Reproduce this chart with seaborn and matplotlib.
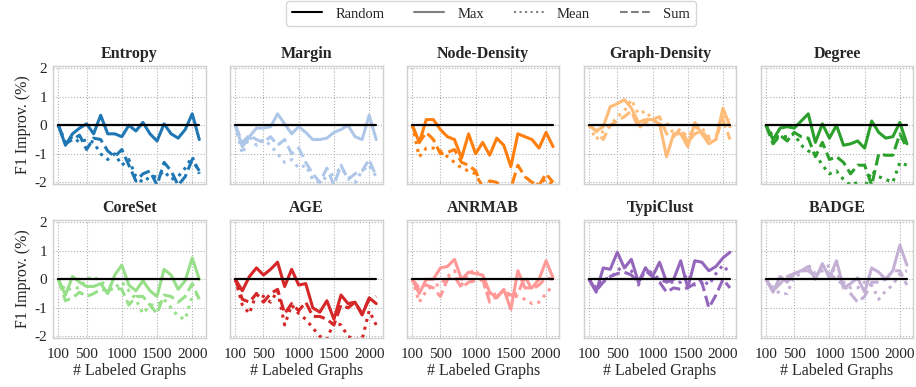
import numpy as np
import pandas as pd
import matplotlib
matplotlib.use("Agg")
import matplotlib.pyplot as plt
from matplotlib.lines import Line2D
import seaborn as sns

sns.set_theme(style="whitegrid")
plt.rcParams.update({
    'font.family': ['Liberation Serif', 'DejaVu Serif'],
    'font.size': 11,
    'axes.titlesize': 11.5,
    'axes.titleweight': 'bold',
    'axes.labelsize': 11.5,
    'xtick.labelsize': 11,
    'ytick.labelsize': 11,
    'axes.unicode_minus': False,
    'axes.edgecolor': '#d0d0d0',
    'axes.linewidth': 1.0,
    'grid.linestyle': ':',
    'grid.color': '#b0b0b0',
    'grid.linewidth': 0.8,
})

# labeled graph budgets
budgets = list(range(100, 2200, 100))

methods = ["Entropy", "Margin", "Node-Density", "Graph-Density", "Degree",
           "CoreSet", "AGE", "ANRMAB", "TypiClust", "BADGE"]
colors = ["#1f77b4", "#aec7e8", "#ff7f0e", "#ffbb78", "#2ca02c",
          "#98df8a", "#d62728", "#ff9896", "#9467bd", "#c5b0d5"]

# F1 improvement over random (%)
max_vals = {
    "Entropy": [0, -0.7, -0.3, -0.1, 0.05, -0.3, 0.35, -0.3, -0.3, -0.4, 0.0, -0.2, 0.1, -0.3, -0.55, 0.05, -0.3, -0.45, -0.15, 0.4, -0.5],
    "Margin": [0, -0.75, -0.4, -0.1, -0.1, -0.05, 0.4, 0.05, -0.3, -0.05, -0.25, -0.5, -0.5, -0.45, -0.25, -0.15, 0.0, -0.4, -0.5, 0.35, -0.5],
    "Node-Density": [0, -0.6, 0.2, 0.2, -0.15, -0.4, -0.5, -1.15, -0.3, -1.0, -0.6, -1.05, -0.45, -0.7, -1.45, -0.3, -0.4, -0.5, -0.8, -0.25, -0.75],
    "Graph-Density": [0, -0.2, -0.05, 0.65, 0.75, 0.9, 0.6, 0.1, 0.2, 0.2, 0.05, -1.1, -0.3, -0.3, -0.75, 0.1, -0.3, -0.65, -0.5, 0.6, -0.05],
    "Degree": [0, -0.5, -0.1, -0.05, -0.1, 0.15, 0.4, -0.6, 0.05, -0.45, 0.0, -0.7, -0.65, -0.55, -0.8, 0.15, -0.25, -0.45, -0.4, 0.1, -0.65],
    "CoreSet": [0, -0.55, 0.1, -0.1, -0.25, -0.25, -0.15, -0.5, 0.15, 0.5, -0.2, -0.4, -0.05, -0.4, -0.6, 0.35, 0.15, -0.35, -0.05, 0.75, 0.0],
    "AGE": [0, -0.4, 0.1, 0.4, 0.15, 0.35, 0.6, -0.25, 0.35, -0.2, -0.15, -1.0, -1.15, -0.75, -1.4, -0.55, -0.85, -0.8, -1.25, -0.65, -0.85],
    "ANRMAB": [0, -0.5, 0.0, 0.0, 0.4, 0.45, 0.7, 0.0, 0.25, 0.2, 0.15, -0.45, -0.65, -0.35, -1.05, 0.3, -0.3, -0.3, 0.0, 0.65, 0.05],
    "TypiClust": [0, -0.45, 0.4, 0.35, 0.95, 0.4, 0.7, -0.1, 0.4, 0.1, 0.6, -0.1, 0.0, 0.65, -0.3, 0.65, 0.6, 0.3, 0.45, 0.75, 0.95],
    "BADGE": [0, -0.45, 0.1, -0.1, 0.2, 0.3, 0.45, 0.0, 0.55, 0.05, 0.65, -0.3, -0.15, 0.05, -0.45, 0.4, 0.25, 0.0, 0.3, 1.2, 0.5],
}
mean_vals = {
    "Entropy": [0, -0.6, -0.4, -0.6, -0.5, -0.6, -1.0, -1.2, -1.0, -1.4, -1.2, -1.8, -2.0, -1.8, -1.8, -1.6, -1.9, -1.8, -1.5, -1.1, -1.7],
    "Margin": [0, -1.0, -0.4, -0.7, -0.5, -0.7, -1.0, -1.3, -1.2, -1.5, -1.4, -1.9, -2.0, -1.8, -1.7, -1.5, -1.8, -2.0, -1.6, -1.4, -1.8],
    "Node-Density": [0, -1.1, -0.8, -0.8, -0.9, -1.1, -1.3, -1.5, -1.6, -1.7, -2.2, -2.2, -2.1, -2.3, -2.4, -2.2, -2.2, -2.3, -2.0, -1.9, -2.1],
    "Graph-Density": [0, -0.5, -0.2, 0.0, 0.3, 0.5, 0.9, 0.4, 0.5, 0.2, 0.0, 0.1, -0.3, -0.2, -0.4, -0.1, -0.1, -0.4, -0.5, 0.3, 0.2],
    "Degree": [0, -0.4, -0.4, -0.4, -0.3, -0.7, -0.9, -1.0, -1.4, -1.7, -1.6, -1.9, -2.1, -2.0, -2.2, -1.6, -1.8, -1.9, -2.0, -1.3, -1.4],
    "CoreSet": [0, -0.4, -0.3, -0.3, 0.0, 0.1, -0.1, -0.2, -0.3, -0.1, -0.4, -0.7, -1.2, -0.9, -0.9, -0.7, -1.0, -1.3, -1.4, -0.6, -0.5],
    "AGE": [0, -0.9, -1.2, -0.5, -0.6, -0.8, -0.4, -1.6, -0.9, -1.2, -1.4, -1.7, -2.0, -2.1, -1.5, -1.6, -2.0, -2.1, -2.1, -1.1, -1.6],
    "ANRMAB": [0, -0.8, -0.4, -0.2, -0.2, 0.1, 0.3, -0.2, 0.2, 0.35, -0.1, -0.6, -0.5, -0.4, -0.6, -0.6, -0.7, -0.85, -0.8, -0.5, -0.2],
    "TypiClust": [0, -0.3, 0.0, 0.05, 0.3, 0.5, 0.3, -0.2, 0.4, 0.2, 0.0, -0.1, -0.1, -0.1, 0.2, -0.2, 0.0, -0.2, 0.2, 0.5, 0.2],
    "BADGE": [0, -0.3, -0.5, -0.5, 0.1, 0.2, 0.5, 0.2, 0.3, 0.5, 0.2, -0.1, -0.3, -0.3, -0.1, -0.2, -0.7, -0.4, -0.2, 0.2, 0.3],
}
sum_vals = {
    "Entropy": [0, -0.65, -0.5, -0.35, -0.85, -0.45, -0.5, -0.9, -1.1, -0.85, -1.4, -1.95, -1.7, -1.6, -2.1, -1.3, -1.6, -2.1, -1.8, -1.2, -1.6],
    "Margin": [0, -0.6, -0.35, -0.5, -0.6, -0.4, -0.7, -0.5, -1.0, -0.8, -1.3, -1.7, -2.0, -1.5, -2.1, -1.4, -1.9, -1.7, -1.6, -1.2, -1.8],
    "Node-Density": [0, -0.6, -0.25, -0.5, -1.0, -0.95, -0.85, -1.3, -1.4, -1.6, -2.2, -1.95, -2.0, -2.3, -2.2, -1.4, -1.8, -2.0, -2.1, -1.7, -2.0],
    "Graph-Density": [0, -0.2, -0.5, 0.0, 0.15, 0.3, 0.5, -0.1, 0.1, 0.2, 0.3, -0.3, -0.4, -0.1, -0.6, -0.3, -0.2, -0.5, -0.4, 0.2, -0.5],
    "Degree": [0, -0.65, -0.35, -0.55, -0.25, -0.4, -0.45, -1.1, -0.6, -1.2, -1.1, -1.3, -1.7, -1.4, -1.4, -2.1, -1.0, -1.05, -1.05, -0.3, -0.8],
    "CoreSet": [0, -0.75, -0.65, -0.45, -0.6, -0.5, -0.35, -0.4, -0.3, -0.35, -0.9, -0.6, -0.6, -0.9, -1.2, -0.55, -0.6, -0.8, -0.6, -0.15, -0.7],
    "AGE": [0, -0.7, -0.8, -0.5, -0.8, -0.5, -0.35, -1.2, -0.85, -1.1, -0.8, -1.3, -1.3, -1.4, -1.6, -0.9, -1.0, -0.8, -1.2, -0.7, -0.6],
    "ANRMAB": [0, -0.3, -0.2, -0.3, -0.6, 0.0, 0.1, -0.3, -0.1, -0.05, 0.0, -0.8, -0.6, -0.4, -0.55, -0.5, 0.1, -0.35, -0.2, 0.05, 0.0],
    "TypiClust": [0, -0.4, -0.1, 0.1, 0.2, 0.25, 0.15, -0.1, 0.3, 0.1, -0.1, -0.45, -0.3, -0.35, -0.3, -0.15, -0.1, -1.0, -0.55, 0.0, -0.3],
    "BADGE": [0, -0.4, -0.15, 0.1, 0.2, 0.3, 0.3, 0.1, 0.4, 0.2, 0.0, -0.2, -0.5, -0.8, -0.6, -0.1, -0.1, 0.0, 0.3, 0.3, -0.2],
}

agg_styles = {"Max": "-", "Mean": ":", "Sum": "--"}
agg_data = {"Max": max_vals, "Mean": mean_vals, "Sum": sum_vals}

fig, axes = plt.subplots(2, 5, figsize=(9.16, 3.87), dpi=100, sharex=True, sharey=True)
fig.subplots_adjust(left=0.058, right=0.997, top=0.829, bottom=0.127, wspace=0.16, hspace=0.31)

for i, (name, color) in enumerate(zip(methods, colors)):
    ax = axes.flat[i]
    ax.plot([budgets[0], budgets[-1]], [0, 0], color='black', lw=1.6, zorder=3)
    for agg, ls in agg_styles.items():
        sns.lineplot(x=budgets, y=agg_data[agg][name], ax=ax, color=color,
                     linestyle=ls, lw=2.2, zorder=2)
    ax.set_title(name, pad=6)
    ax.set_xlim(25, 2190)
    ax.set_ylim(-2.05, 2.07)
    ax.set_xticks([100, 500, 1000, 1500, 2000])
    ax.set_yticks([-2, -1, 0, 1, 2])
    ax.tick_params(axis='both', length=2.5, width=0.8, color='#444444', pad=2)
    ax.tick_params(axis='x', pad=4.5)
    ax.grid(True, which='both')
    if i % 5 == 0:
        ax.set_ylabel("F1 Improv. (%)", labelpad=2)
    if i >= 5:
        ax.set_xlabel("# Labeled Graphs", labelpad=2)

handles = [Line2D([], [], color='black', lw=1.5, ls='-'),
           Line2D([], [], color='grey', lw=1.5, ls='-'),
           Line2D([], [], color='grey', lw=1.5, ls=':'),
           Line2D([], [], color='grey', lw=1.5, ls='--')]
fig.legend(handles, ["Random", "Max", "Mean", "Sum"], loc='upper center',
           bbox_to_anchor=(0.536, 1.0), ncol=4, frameon=True, fontsize=10.5,
           handlelength=2.05, handletextpad=0.9, columnspacing=2.05,
           borderpad=0.4, borderaxespad=0.1, fancybox=True)

plt.savefig("out.png", dpi=100)
plt.close()
